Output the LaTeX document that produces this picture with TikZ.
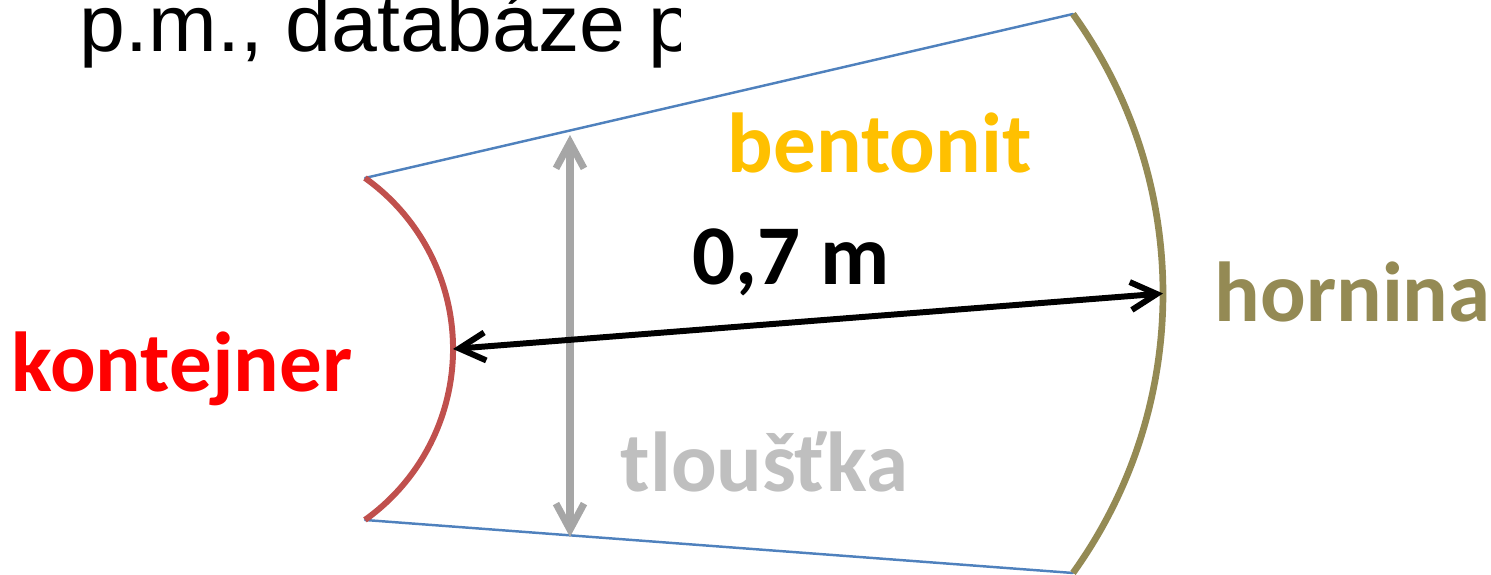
\documentclass[tikz,border=0pt]{standalone}
\usepackage{fontspec}
\newfontfamily\calibri{Carlito}
\newfontfamily\arialfont{Liberation Sans}
\usepackage{tikz}
\usetikzlibrary{arrows.meta}
\definecolor{contred}{HTML}{C0504D}
\definecolor{rockol}{HTML}{948A54}
\definecolor{edgeblue}{HTML}{4F81BD}
\definecolor{bentyel}{HTML}{FFC000}
\definecolor{thickgray}{HTML}{BFBFBF}
\definecolor{arrgray}{HTML}{A6A6A6}

\begin{document}
\begin{tikzpicture}[line cap=round,
  lbl/.style={anchor=base west,inner sep=0pt,font=\calibri\bfseries\fontsize{24.2}{28}\selectfont},
  barbs/.style={{Straight Barb[length=2.6mm,width=2.8mm]}-{Straight Barb[length=2.6mm,width=2.8mm]}}]
\useasboundingbox (0,0) rectangle (14.91,5.75);
% title line, cut off on the right
\begin{scope}
\clip (0,0) rectangle (6.80,5.75);
\node[anchor=base west,inner sep=0pt,xscale=1.15,yscale=1.12,font=\arialfont\fontsize{20.4}{24}\selectfont] (title) at (0.79,5.23) {p.m., databáze p};
\end{scope}
% corners of the layer
\coordinate (ctop) at (3.65,3.97);
\coordinate (cbot) at (3.65,0.55);
\coordinate (rtop) at (10.73,5.61);
\coordinate (rbot) at (10.73,0.02);
\coordinate (cmid) at (4.53,2.26);
\coordinate (rmid) at (11.63,2.815);
\coordinate (gtop) at (5.70,4.40);
\coordinate (gbot) at (5.70,0.38);
% edges and surfaces
\draw[edgeblue,line width=0.7pt] (ctop) -- (rtop);
\draw[edgeblue,line width=0.7pt] (cbot) -- (rbot);
\draw[contred,line width=1.7pt,line cap=butt] (ctop) arc[start angle=54.5,end angle=-54.5,radius=2.10];
\draw[rockol,line width=1.9pt,line cap=butt] (rtop) arc[start angle=35.7,end angle=-35.7,radius=4.79];
% dimensions
\draw[barbs,arrgray,line width=2pt] (gtop) -- (gbot);
\draw[barbs,black,line width=1.7pt] (cmid) -- (rmid);
% labels
\node[lbl,text=bentyel] (bent) at (7.27,4.02) {bentonit};
\node[lbl] (dist) at (6.92,2.90) {0,7 m};
\node[lbl,text=rockol] (rock) at (12.14,2.53) {hornina};
\node[lbl,text=red] (cont) at (0.11,1.83) {kontejner};
\node[lbl,text=thickgray] (thick) at (6.20,0.83) {tloušťka};
\end{tikzpicture}
\end{document}
